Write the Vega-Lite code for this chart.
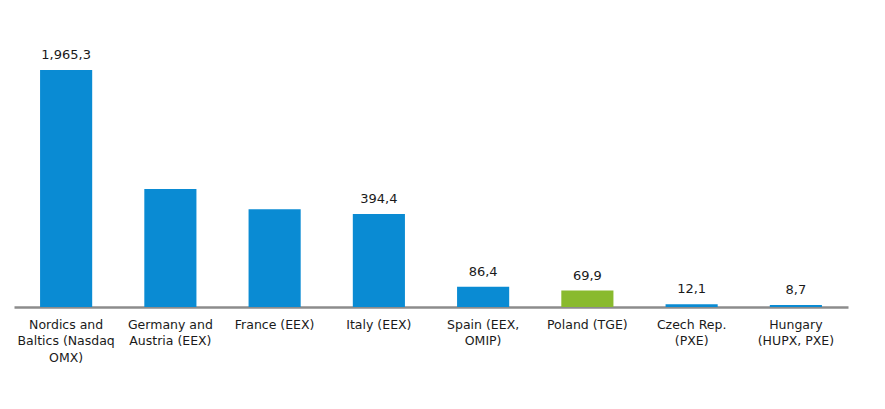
{
  "$schema": "https://vega.github.io/schema/vega-lite/v6.json",
  "width": 834,
  "height": 237,
  "autosize": {"type": "none"},
  "padding": {"top": 70, "left": 14, "right": 37, "bottom": 102},
  "background": "white",
  "config": {"view": {"stroke": null}, "font": "DejaVu Sans"},
  "data": {"values": [
    {"market": "Nordics and|Baltics (Nasdaq|OMX)", "value": 1965.3, "label": "1,965,3", "group": "other"},
    {"market": "Germany and|Austria (EEX)", "value": 500, "label": "", "group": "other"},
    {"market": "France (EEX)", "value": 415, "label": "", "group": "other"},
    {"market": "Italy (EEX)", "value": 394.4, "label": "394,4", "group": "other"},
    {"market": "Spain (EEX,|OMIP)", "value": 86.4, "label": "86,4", "group": "other"},
    {"market": "Poland (TGE)", "value": 69.9, "label": "69,9", "group": "Poland"},
    {"market": "Czech Rep.|(PXE)", "value": 12.1, "label": "12,1", "group": "other"},
    {"market": "Hungary|(HUPX, PXE)", "value": 8.7, "label": "8,7", "group": "other"}
  ]},
  "encoding": {
    "x": {
      "field": "market", "type": "nominal", "sort": null,
      "scale": {"paddingInner": 0.5, "paddingOuter": 0.25},
      "axis": {
        "title": null, "labelAngle": 0, "ticks": false,
        "domainColor": "#8c8c8c", "domainWidth": 2.5,
        "labelExpr": "split(datum.value, '|')",
        "labelFontSize": 12.5, "labelColor": "#1a1a1a", "labelPadding": 11,
        "labelLineHeight": 16.5, "labelLimit": 200
      }
    },
    "y": {
      "field": "value", "type": "quantitative",
      "scale": {"domain": [0, 1005], "clamp": true, "nice": false},
      "axis": null
    }
  },
  "layer": [
    {
      "mark": {"type": "bar"},
      "encoding": {
        "color": {
          "field": "group", "type": "nominal",
          "scale": {"domain": ["other", "Poland"], "range": ["#0A8BD3", "#89BA2E"]},
          "legend": null
        }
      }
    },
    {
      "mark": {"type": "text", "baseline": "bottom", "dy": -8, "fontSize": 13, "color": "#1a1a1a"},
      "encoding": {"text": {"field": "label"}}
    }
  ]
}
